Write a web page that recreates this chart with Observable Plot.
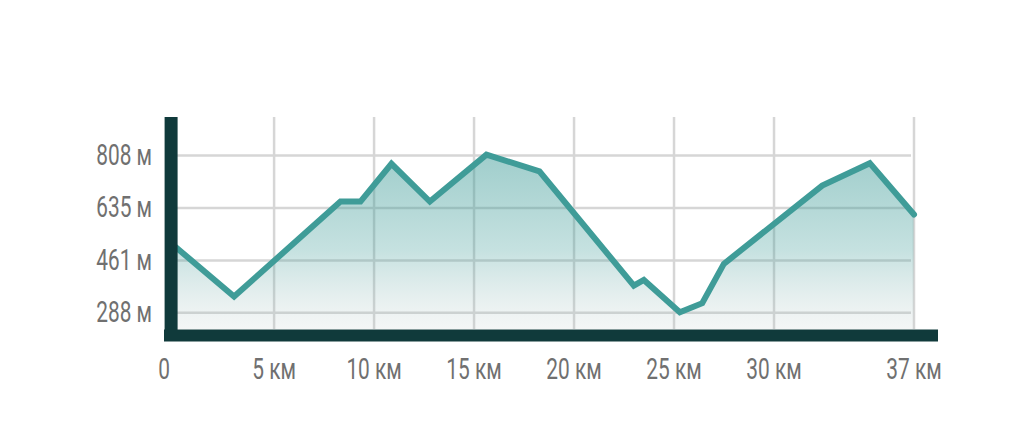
<!DOCTYPE html>
<html>
<head>
<meta charset="utf-8">
<script src="https://cdn.jsdelivr.net/npm/d3@7"></script>
<script src="https://cdn.jsdelivr.net/npm/@observablehq/plot@0.6"></script>
<style>
  html, body { margin: 0; padding: 0; background: #ffffff; }
  #chart { width: 1024px; height: 427px; }
</style>
</head>
<body>
<div id="chart"></div>
<script>
// ---- data ----
const distanceKm = [0, 3.0, 8.32, 9.32, 10.87, 12.79, 15.62, 18.27, 22.99, 23.49, 25.29, 26.41, 27.49, 32.41, 34.79, 37];
const elevationM = [510, 342, 656, 656, 781, 656, 811, 756, 378, 397, 290, 320, 450, 709, 783, 613];
const xTicks = [0, 5, 10, 15, 20, 25, 30, 37];
const yTicks = [288, 461, 635, 808];
const xUnit = "км";
const yUnit = "м";
const xDomain = [0, 37];
const yDomain = [233, 934];

const points = distanceKm.map((km, i) => ({km, m: elevationM[i]}));

const FONT = 'Roboto, "Liberation Sans", sans-serif';
const LINE = "#3f9c98";
const DARK = "#103a3b";
const GRID = "#d6d6d6";
const TEXT = "#707070";

function gradientDefs() {
  const defs = document.createElementNS("http://www.w3.org/2000/svg", "defs");
  defs.innerHTML =
    '<linearGradient id="elevFill" x1="0" y1="0" x2="0" y2="1">' +
    '<stop offset="0" stop-color="#3f9c98" stop-opacity="0.5"/>' +
    '<stop offset="0.55" stop-color="#3f9c98" stop-opacity="0.3"/>' +
    '<stop offset="1" stop-color="#b8c4c4" stop-opacity="0.15"/>' +
    '</linearGradient>';
  return defs;
}

const chart = Plot.plot({
  width: 1024,
  height: 427,
  marginLeft: 173.6,
  marginRight: 110.5,
  marginTop: 117,
  marginBottom: 98,
  x: {domain: xDomain, label: null},
  y: {domain: yDomain, label: null},
  style: {fontFamily: FONT, fontSize: "29px", color: TEXT, background: "#ffffff", overflow: "visible"},
  marks: [
    gradientDefs,
    Plot.gridY(yTicks, {stroke: GRID, strokeOpacity: 1, strokeWidth: 2.5, insetRight: 2.5}),
    Plot.gridX(xTicks.filter(d => d > 0), {stroke: GRID, strokeOpacity: 1, strokeWidth: 2.5}),
    Plot.areaY(points, {x: "km", y1: yDomain[0], y2: "m", fill: "url(#elevFill)"}),
    Plot.lineY(points, {x: "km", y: "m", stroke: LINE, strokeWidth: 6, strokeLinejoin: "miter", strokeMiterlimit: 4}),
    Plot.ruleX([xDomain[0]], {y1: yDomain[1], y2: yDomain[0], dx: -3, stroke: DARK, strokeWidth: 13, insetBottom: -12}),
    Plot.ruleY([yDomain[0]], {x1: xDomain[0], x2: xDomain[1], dy: 6, stroke: DARK, strokeWidth: 12, insetLeft: -9.6, insetRight: -24.5}),
    Plot.axisY(yTicks, {tickSize: 0, tickPadding: 22, tickFormat: d => `${d} ${yUnit}`, label: null, fill: TEXT}),
    Plot.axisX(xTicks.filter(d => d > 0), {tickSize: 0, tickPadding: 29, tickFormat: d => `${d} ${xUnit}`, label: null, fill: TEXT}),
    Plot.axisX([xTicks[0]], {tickSize: 0, tickPadding: 29, dx: -10, tickFormat: d => `${d}`, label: null, fill: TEXT})
  ]
});

// condense tick labels horizontally (keeps each label's anchor point)
chart.querySelectorAll('g[aria-label$="tick label"] text').forEach(t => {
  const tr = t.getAttribute("transform");
  if (tr) t.setAttribute("transform", tr + " scale(0.72,1)");
});

document.getElementById("chart").appendChild(chart);
</script>
</body>
</html>
